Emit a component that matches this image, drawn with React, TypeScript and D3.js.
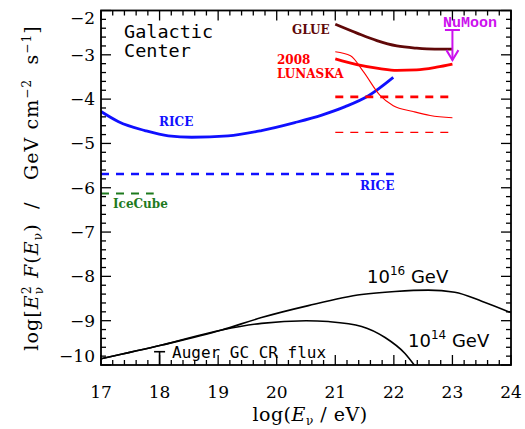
import React from 'react';
import * as d3 from 'd3';

// axis ticks
const xTickValues = [17, 18, 19, 20, 21, 22, 23, 24];
const yTickValues = [-2, -3, -4, -5, -6, -7, -8, -9, -10];

// RICE (solid) limit
const riceLogE = [17, 17.3, 17.75, 18.15, 18.55, 19.17, 19.74, 20.31, 20.77, 21.17, 21.56, 21.99];
const riceFlux = [-4.28, -4.51, -4.71, -4.83, -4.86, -4.83, -4.71, -4.53, -4.36, -4.17, -3.93, -3.51];

// RICE dashed
const riceDashLogE = [17, 22];
const riceDashFlux = [-5.69, -5.69];

// IceCube dashed
const iceLogE = [17, 17.9];
const iceFlux = [-6.13, -6.13];

// GLUE
const glueLogE = [21, 21.37, 21.71, 22.05, 22.39, 22.7, 23.0];
const glueFlux = [-2.31, -2.51, -2.68, -2.8, -2.85, -2.87, -2.87];

// LUNASKA 2008 thick
const lunLogE = [21.0, 21.37, 21.76, 22.05, 22.39, 22.73, 23.0];
const lunFlux = [-3.09, -3.22, -3.31, -3.35, -3.34, -3.28, -3.21];

// LUNASKA thin
const lunThinLogE = [21, 21.26, 21.48, 21.76, 21.99, 22.33, 22.62, 23.0];
const lunThinFlux = [-2.93, -3.02, -3.38, -3.91, -4.15, -4.28, -4.37, -4.42];

// LUNASKA dashed
const lunDashLogE = [21, 22.93];
const lunDashThickFlux = [-3.95, -3.95];
const lunDashThinFlux = [-4.75, -4.75];

// NuMoon arrow
const nuMoonLogE = 23.0;
const nuMoonFlux = [-2.44, -3.12];

// GC models
const m16LogE = [17, 18.04, 19.06, 19.74, 20.54, 21.45, 22.02, 22.59, 23.04, 23.5, 24];
const m16Flux = [-9.86, -9.55, -9.21, -8.93, -8.66, -8.41, -8.34, -8.31, -8.36, -8.56, -8.82];
const m14LogE = [17, 18.04, 19.06, 19.74, 20.5, 20.88, 21.45, 21.85, 22.19, 22.36];
const m14Flux = [-9.86, -9.55, -9.21, -9.06, -9.0, -9.02, -9.13, -9.38, -9.74, -10.02];

// Auger GC CR flux
const augerLogE = 18;
const augerFlux = [-10, -9.7];

export default function App() {
  const W = 525, H = 429;
  const x = d3.scaleLinear().domain([17, 24]).range([101, 511]);
  const y = d3.scaleLinear().domain([-10, -2]).range([365, 10.5]);
  const mk = (xs: number[], ys: number[], curve: any = d3.curveMonotoneX) =>
    d3.line<number>().x((_, i) => x(xs[i])).y((v) => y(v)).curve(curve)(ys) || '';

  const xMinor = d3.range(17, 24.001, 0.2);
  const yMinor = d3.range(-10, -1.999, 0.2);
  const isMajor = (v: number) => Math.abs(v - Math.round(v)) < 1e-6;
  const [x0, x1] = x.range();
  const [y0, y1] = [y(-2), y(-10)];

  const serif = 'DejaVu Serif';
  const lab = { fontFamily: serif, fontWeight: 'bold' as const, fontSize: 12 };

  return (
    <div style={{ position: 'absolute', left: 0, top: 0 }}>
      <svg width={W} height={H} style={{ display: 'block', background: '#fff' }}>
        <defs>
          <clipPath id="plot">
            <rect x={x0} y={y0} width={x1 - x0} height={y1 - y0} />
          </clipPath>
        </defs>
        <g clipPath="url(#plot)" fill="none">
          <path d={mk(m16LogE, m16Flux)} stroke="#000" strokeWidth={1.6} />
          <path d={mk(m14LogE, m14Flux)} stroke="#000" strokeWidth={1.6} />
          <path d={mk(riceLogE, riceFlux)} stroke="#1010ff" strokeWidth={2.8} />
          <path d={mk(riceDashLogE, riceDashFlux, d3.curveLinear)} stroke="#1010ff" strokeWidth={2.6} strokeDasharray="8,7" />
          <path d={mk(iceLogE, iceFlux, d3.curveLinear)} stroke="#1e7a1e" strokeWidth={2.2} strokeDasharray="8,7" />
          <path d={mk(glueLogE, glueFlux)} stroke="#600808" strokeWidth={2.8} />
          <path d={mk(lunLogE, lunFlux)} stroke="#ff0000" strokeWidth={2.8} />
          <path d={mk(lunThinLogE, lunThinFlux)} stroke="#ff0000" strokeWidth={1.1} />
          <path d={mk(lunDashLogE, lunDashThickFlux, d3.curveLinear)} stroke="#ff0000" strokeWidth={2.6} strokeDasharray="8,7" />
          <path d={mk(lunDashLogE, lunDashThinFlux, d3.curveLinear)} stroke="#ff0000" strokeWidth={1.2} strokeDasharray="8,7" />
          {/* NuMoon arrow */}
          <g stroke="#cc11ee" strokeWidth={2}>
            <line x1={x(nuMoonLogE) - 7.5} x2={x(nuMoonLogE) + 7.5} y1={y(nuMoonFlux[0])} y2={y(nuMoonFlux[0])} />
            <line x1={x(nuMoonLogE)} x2={x(nuMoonLogE)} y1={y(nuMoonFlux[0])} y2={y(nuMoonFlux[1])} />
            <polyline points={`${x(nuMoonLogE) - 6},${y(nuMoonFlux[1]) - 10} ${x(nuMoonLogE)},${y(nuMoonFlux[1])} ${x(nuMoonLogE) + 6},${y(nuMoonFlux[1]) - 10}`} />
          </g>
          {/* Auger marker */}
          <g stroke="#000" strokeWidth={1.6}>
            <line x1={x(augerLogE)} x2={x(augerLogE)} y1={y(augerFlux[0])} y2={y(augerFlux[1])} />
            <line x1={x(augerLogE) - 5.5} x2={x(augerLogE) + 5.5} y1={y(augerFlux[1])} y2={y(augerFlux[1])} />
          </g>
        </g>

        {/* frame and ticks */}
        <rect x={x0} y={y0} width={x1 - x0} height={y1 - y0} fill="none" stroke="#000" strokeWidth={1.8} />
        <g stroke="#000" strokeWidth={1.3}>
          {xMinor.map((v, i) => {
            const L = isMajor(v) ? 10 : 5;
            return (
              <g key={'xt' + i}>
                <line x1={x(v)} x2={x(v)} y1={y1} y2={y1 - L} />
                <line x1={x(v)} x2={x(v)} y1={y0} y2={y0 + L} />
              </g>
            );
          })}
          {yMinor.map((v, i) => {
            const L = isMajor(v) ? 10 : 5;
            return (
              <g key={'yt' + i}>
                <line x1={x0} x2={x0 + L} y1={y(v)} y2={y(v)} />
                <line x1={x1} x2={x1 - L} y1={y(v)} y2={y(v)} />
              </g>
            );
          })}
        </g>
        <g fontFamily={serif} fontSize={17} fill="#000">
          {xTickValues.map((v) => (
            <text key={'xl' + v} x={x(v)} y={398} textAnchor="middle">{v}</text>
          ))}
          {yTickValues.map((v) => (
            <text key={'yl' + v} x={95} y={Math.min(Math.max(y(v), 18), 356) + 6} textAnchor="end">{'\u2212' + Math.abs(v)}</text>
          ))}
        </g>
        {/* axis titles */}
        <text x={310} y={421} textAnchor="middle" fontFamily={serif} fontSize={19} letterSpacing={0.5} style={{ whiteSpace: 'pre' }}>
          log(<tspan fontStyle="italic">E</tspan><tspan fontSize={12} dy={4}>ν</tspan><tspan dy={-4}> / eV)</tspan>
        </text>
        <text transform="translate(38,188) rotate(-90)" textAnchor="middle" fontFamily={serif} fontSize={19} letterSpacing={1.1} style={{ whiteSpace: 'pre' }}>
          log[<tspan fontStyle="italic">E</tspan><tspan fontSize={12} dy={5}>ν</tspan><tspan fontSize={12} dx={-8} dy={-12}>2</tspan><tspan dy={7}> </tspan><tspan fontStyle="italic">F</tspan>(<tspan fontStyle="italic">E</tspan><tspan fontSize={12} dy={4}>ν</tspan><tspan dy={-4}>)  /   GeV cm</tspan><tspan fontSize={12} dy={-7}>−2</tspan><tspan dy={7}>  s</tspan><tspan fontSize={12} dy={-7}>−1</tspan><tspan dy={7}>]</tspan>
        </text>

        {/* annotations */}
        <text x={124} y={38} fontFamily="DejaVu Sans Mono" fontSize={18.5}>Galactic</text>
        <text x={124} y={57} fontFamily="DejaVu Sans Mono" fontSize={18.5}>Center</text>
        <text x={292} y={34} fill="#600808" {...lab}>GLUE</text>
        <text x={277} y={64} fill="#ff0000" {...lab}>2008</text>
        <text x={277} y={78} fill="#ff0000" {...lab}>LUNASKA</text>
        <text x={443} y={27} fill="#cc11ee" fontFamily="Liberation Mono" fontWeight="bold" fontSize={15}>NuMoon</text>
        <text x={159} y={126} fill="#1010ff" {...lab}>RICE</text>
        <text x={360} y={190} fill="#1010ff" {...lab}>RICE</text>
        <text x={113} y={208} fill="#1e7a1e" {...lab}>IceCube</text>
        <text x={172} y={358} fontFamily="DejaVu Sans Mono" fontSize={16}>Auger GC CR flux</text>
        <text x={367} y={283} fontFamily="DejaVu Sans" fontSize={18}>10<tspan fontSize={12} dy={-8}>16</tspan><tspan dy={8}> GeV</tspan></text>
        <text x={408} y={347} fontFamily="DejaVu Sans" fontSize={18}>10<tspan fontSize={12} dy={-8}>14</tspan><tspan dy={8}> GeV</tspan></text>
      </svg>
    </div>
  );
}
